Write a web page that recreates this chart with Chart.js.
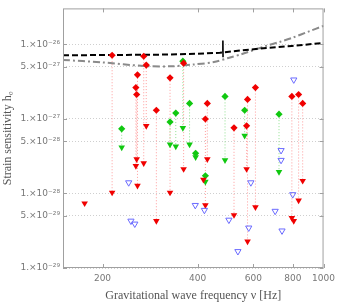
<!DOCTYPE html>
<html>
<head>
<meta charset="utf-8">
<script src="https://cdn.jsdelivr.net/npm/chart.js@4.4.0/dist/chart.umd.min.js"></script>
<style>
  html, body { margin: 0; padding: 0; background: #fff; }
  #wrap { width: 340px; height: 305px; }
</style>
</head>
<body>
<div id="wrap"><canvas id="chart" width="340" height="305"></canvas></div>
<script>
(function () {
  "use strict";

  // upper limits (diamonds) joined to their lower values (triangles)
  const redFreq = [214.5, 270, 275, 258, 255, 256.5, 296, 327, 361, 429, 423, 521, 575, 571, 609, 794, 834, 859];
  const redUpper = [7.17e-27, 6.95e-27, 5.29e-27, 3.91e-27, 2.64e-27, 2.13e-27, 1.31e-27, 3.57e-27, 5.62e-27,
    1.62e-27, 1.0e-27, 7.61e-28, 1.83e-27, 8.09e-28, 2.64e-27, 2.01e-27, 2.13e-27, 1.62e-27];
  const redLower = [1.03e-28, 2.56e-28, 8.09e-28, 1.27e-28, 2.34e-28, 2.89e-28, 4.28e-29, 1.03e-28, 2.13e-28,
    2.89e-28, 6.95e-29, 5.14e-29, 2.27e-29, 2.13e-28, 6.54e-29, 4.69e-29, 8.09e-29, 1.48e-28];

  const redSingleFreq = [175.6, 417, 805];
  const redSingleVal = [7.39e-29, 1.53e-28, 4.28e-29];

  const greenFreq = [230, 327, 341, 359, 377, 394, 423, 488, 563, 723];
  const greenUpper = [7.39e-28, 9.13e-28, 1.2e-27, 5.97e-27, 1.62e-27, 3.46e-28, 1.73e-28, 2.01e-27, 1.31e-27, 1.16e-27];
  const greenLower = [4.15e-28, 4.55e-28, 4.28e-28, 7.61e-28, 4.55e-28, 3.07e-28, 1.44e-28, 2.8e-28, 5.97e-28, 1.95e-28];

  const blueFreq = [242, 246, 253, 393, 420, 502, 536, 580, 589, 703, 734, 734, 739, 799, 805];
  const blueVal = [1.4e-28, 4.28e-29, 3.91e-29, 6.95e-29, 5.97e-29, 4.41e-29, 1.67e-29, 3.46e-29, 1.4e-28,
    5.8e-29, 3.79e-28, 2.8e-28, 3.16e-29, 9.7e-29, 3.36e-27];

  // sensitivity curves
  const blackFreq = [150, 200, 300, 400, 470, 480, 482, 517, 660, 794, 1000];
  const blackVal = [7.17e-27, 7.21e-27, 7.3e-27, 7.5e-27, 7.75e-27, 7.8e-27, 7.85e-27, 8.1e-27, 9.0e-27, 9.55e-27, 1.05e-26];
  const spikeFreq = [480, 480.5, 481];
  const spikeVal = [7.8e-27, 1.13e-26, 6.75e-27];

  const grayFreq = [150, 200, 270, 330, 390, 450, 500, 550, 600, 660, 730, 800, 900, 1000];
  const grayVal = [6.2e-27, 5.75e-27, 5.15e-27, 5.1e-27, 5.4e-27, 5.8e-27, 6.6e-27, 7.4e-27, 8.4e-27,
    9.6e-27, 1.09e-26, 1.24e-26, 1.5e-26, 1.78e-26];

  const xTicks = [200, 400, 600, 800, 1000];
  const yTicks = [1e-29, 5e-29, 1e-28, 5e-28, 1e-27, 5e-27, 1e-26];
  const yTickLabels = ["1.×10⁻²⁹", "5.×10⁻²⁹", "1.×10⁻²⁸", "5.×10⁻²⁸", "1.×10⁻²⁷", "5.×10⁻²⁷", "1.×10⁻²⁶"];

  function points(xs, ys) {
    return xs.map((x, i) => ({ x: x, y: ys[i] }));
  }

  function connectors(xs, ups, lows) {
    const out = [];
    xs.forEach((x, i) => {
      out.push({ x: x, y: ups[i] });
      out.push({ x: x, y: lows[i] });
      out.push({ x: x, y: null });
    });
    return out;
  }

  const frame = {
    id: "frame",
    afterDatasetsDraw(chart) {
      const ctx = chart.ctx;
      const a = chart.chartArea;
      const xs = chart.scales.x;
      const ys = chart.scales.y;
      ctx.save();
      ctx.strokeStyle = "#a0a0a0";
      ctx.lineWidth = 1;
      ctx.strokeRect(a.left + 0.5, a.top + 0.5, a.right - a.left - 1, a.bottom - a.top - 1);
      ctx.beginPath();
      xTicks.forEach((v) => {
        const px = Math.round(xs.getPixelForValue(v)) + 0.5;
        ctx.moveTo(px, a.bottom);
        ctx.lineTo(px, a.bottom - 4);
        ctx.moveTo(px, a.top);
        ctx.lineTo(px, a.top + 4);
      });
      yTicks.forEach((v) => {
        const py = Math.round(ys.getPixelForValue(v)) + 0.5;
        ctx.moveTo(a.left, py);
        ctx.lineTo(a.left + 4, py);
        ctx.moveTo(a.right, py);
        ctx.lineTo(a.right - 4, py);
      });
      ctx.stroke();
      ctx.restore();
    },
  };

  const red = "#f00000";
  const green = "#10c810";
  const blue = "#6a6aff";

  new Chart(document.getElementById("chart"), {
    type: "scatter",
    data: {
      datasets: [
        {
          data: points(blueFreq, blueVal),
          pointStyle: "triangle", rotation: 180, radius: 3.6,
          backgroundColor: "rgba(255,255,255,0)", borderColor: blue, borderWidth: 1, order: 1,
        },
        {
          data: points(redFreq, redUpper),
          pointStyle: "rectRot", radius: 3.6,
          backgroundColor: red, borderColor: red, borderWidth: 0, order: 1,
        },
        {
          data: points(redFreq, redLower).concat(points(redSingleFreq, redSingleVal)),
          pointStyle: "triangle", rotation: 180, radius: 3.8,
          backgroundColor: red, borderColor: red, borderWidth: 0, order: 1,
        },
        {
          data: points(greenFreq, greenUpper),
          pointStyle: "rectRot", radius: 3.6,
          backgroundColor: green, borderColor: green, borderWidth: 0, order: 2,
        },
        {
          data: points(greenFreq, greenLower),
          pointStyle: "triangle", rotation: 180, radius: 3.8,
          backgroundColor: green, borderColor: green, borderWidth: 0, order: 2,
        },
        {
          data: points(blackFreq, blackVal), showLine: true, radius: 0,
          borderColor: "#000", borderWidth: 2, borderDash: [6, 3], order: 3,
        },
        {
          data: points(spikeFreq, spikeVal), showLine: true, radius: 0,
          borderColor: "#000", borderWidth: 1.6, order: 3,
        },
        {
          data: points(grayFreq, grayVal), showLine: true, radius: 0, tension: 0.3,
          borderColor: "#8a8a8a", borderWidth: 2, borderDash: [7, 3, 2, 3], order: 4,
        },
        {
          data: connectors(redFreq, redUpper, redLower), showLine: true, spanGaps: false, radius: 0,
          borderColor: "#ff9c9c", borderWidth: 1, borderDash: [1, 2], order: 5,
        },
        {
          data: connectors(greenFreq, greenUpper, greenLower), showLine: true, spanGaps: false, radius: 0,
          borderColor: "#8ee08e", borderWidth: 1, borderDash: [1, 2], order: 5,
        },
      ],
    },
    options: {
      responsive: false,
      animation: false,
      layout: { padding: { top: 3, right: 12, left: 0, bottom: 0 } },
      plugins: { legend: { display: false }, tooltip: { enabled: false } },
      scales: {
        x: {
          type: "logarithmic",
          min: 150,
          max: 1000,
          afterBuildTicks: (s) => { s.ticks = xTicks.map((v) => ({ value: v })); },
          afterFit: (s) => { s.height = 37; },
          grid: { display: false, drawTicks: false },
          border: { display: false },
          ticks: {
            autoSkip: false, maxRotation: 0, padding: 5,
            color: "#777", font: { family: "DejaVu Sans", size: 9 },
            callback: (v) => String(v),
          },
          title: {
            display: true,
            text: "Gravitational wave frequency ν [Hz]",
            color: "#555",
            font: { family: "Liberation Serif", size: 12 },
            padding: { top: 0, bottom: 2 },
          },
        },
        y: {
          type: "logarithmic",
          min: 1e-29,
          max: 3.05e-26,
          afterBuildTicks: (s) => { s.ticks = yTicks.map((v) => ({ value: v })); },
          afterFit: (s) => { s.width = 63; },
          grid: { color: "#cfcfcf", drawTicks: false, lineWidth: 1 },
          border: { display: false, dash: [1, 2] },
          ticks: {
            autoSkip: false, padding: 3,
            color: "#777", font: { family: "DejaVu Sans", size: 9 },
            callback: (v) => {
              const i = yTicks.findIndex((t) => Math.abs(t - v) / t < 1e-6);
              return i >= 0 ? yTickLabels[i] : "";
            },
          },
          title: {
            display: true,
            text: "Strain sensitivity h₀",
            color: "#555",
            font: { family: "Liberation Serif", size: 12 },
            padding: { top: 1, bottom: 0 },
          },
        },
      },
    },
    plugins: [frame],
  });
})();
</script>
</body>
</html>
